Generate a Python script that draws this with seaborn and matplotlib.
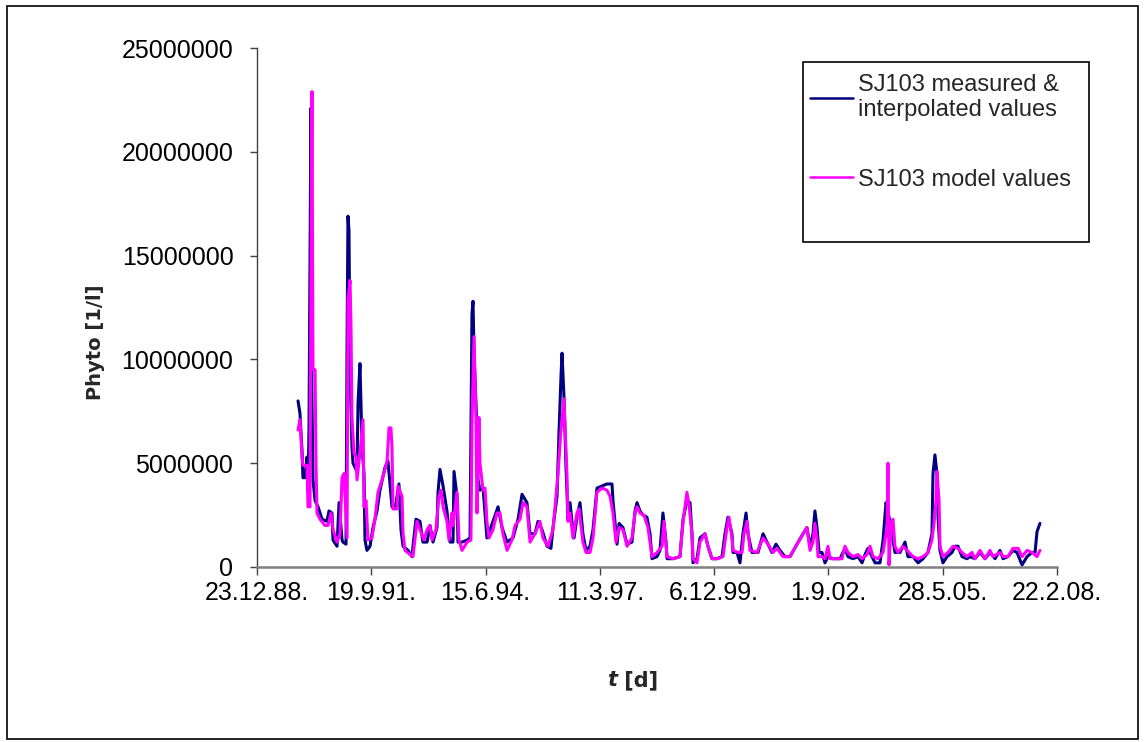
import pandas as pd
import matplotlib
matplotlib.use("Agg")
import matplotlib.pyplot as plt
import matplotlib.dates as mdates
from matplotlib.lines import Line2D
from matplotlib.patches import Rectangle
from matplotlib.ticker import FuncFormatter
import seaborn as sns

# --- data ---
start_date = pd.Timestamp("1988-12-23")
tick_step_days = 1000
n_ticks = 8

# days after 23.12.88 and values in millions of cells per litre
measured_days = [359, 376, 394, 402, 420, 438, 446, 455, 472, 481, 490, 508, 534, 569, 612, 630, 656, 665,
                 700, 718, 744, 752, 779, 788, 796, 805, 814, 831, 840, 875, 884, 901, 919, 936, 945, 962,
                 989, 1015, 1050, 1076, 1120, 1146, 1181, 1208, 1242, 1260, 1278, 1321, 1356, 1365, 1391,
                 1426, 1452, 1488, 1514, 1540, 1575, 1584, 1601, 1628, 1662, 1689, 1715, 1724, 1750, 1759,
                 1794, 1838, 1864, 1881, 1890, 1899, 1925, 1934, 1951, 1978, 2012, 2039, 2065, 2109, 2144,
                 2188, 2240, 2284, 2319, 2362, 2389, 2432, 2459, 2494, 2538, 2572, 2590, 2625, 2642, 2660,
                 2669, 2686, 2704, 2721, 2739, 2756, 2774, 2800, 2826, 2852, 2879, 2914, 2940, 2975, 3019,
                 3062, 3106, 3115, 3132, 3150, 3168, 3202, 3238, 3281, 3308, 3325, 3351, 3378, 3412, 3439,
                 3456, 3500, 3526, 3552, 3579, 3588, 3640, 3701, 3728, 3762, 3789, 3806, 3815, 3850, 3876,
                 3920, 3946, 3981, 4025, 4069, 4095, 4121, 4156, 4165, 4200, 4226, 4252, 4279, 4296, 4331,
                 4384, 4428, 4462, 4506, 4541, 4576, 4620, 4664, 4725, 4778, 4812, 4839, 4865, 4882, 4900,
                 4918, 4944, 4970, 4996, 5040, 5101, 5145, 5171, 5215, 5259, 5294, 5320, 5346, 5381, 5408,
                 5451, 5478, 5504, 5521, 5556, 5582, 5626, 5670, 5696, 5740, 5784, 5828, 5871, 5906, 5915,
                 5932, 5950, 5959, 5976, 6002, 6038, 6081, 6108, 6134, 6169, 6212, 6239, 6282, 6326, 6370,
                 6414, 6458, 6501, 6528, 6571, 6615, 6650, 6694, 6738, 6781, 6808, 6825, 6851]
measured_mio = [8.0, 7.4, 5.6, 4.3, 4.3, 5.3, 3.6, 6.7, 22.1, 8.0, 4.2, 3.2, 2.9, 2.3, 2.2, 2.7, 2.6, 1.3,
                1.0, 3.1, 1.3, 1.2, 1.1, 10.8, 16.9, 16.2, 9.5, 5.8, 5.0, 4.6, 7.9, 9.8, 5.8, 4.5, 1.3, 0.8,
                1.0, 1.9, 2.7, 3.7, 4.8, 5.1, 2.9, 2.8, 4.0, 1.8, 1.0, 0.8, 0.5, 1.0, 2.3,
                2.2, 1.2, 1.2, 2.0, 1.2, 1.9, 3.6, 4.7, 3.9, 2.7, 1.2, 1.2, 4.6, 3.4, 1.2,
                1.2, 1.3, 1.4, 12.2, 12.8, 10.3, 6.6, 4.2, 3.7, 3.8, 1.4, 1.8, 2.2, 2.9, 1.9,
                1.2, 1.4, 2.3, 3.5, 3.1, 1.6, 1.6, 2.2, 1.8, 1.0, 0.9, 1.9, 3.4, 6.4, 9.2,
                10.3, 8.2, 4.8, 2.3, 3.1, 2.2, 1.4, 2.4, 3.1, 1.6, 0.8, 1.0, 1.8, 3.8, 3.9,
                4.0, 4.0, 3.2, 2.2, 1.1, 2.1, 1.9, 1.1, 1.2, 2.7, 3.1, 2.7, 2.5, 2.4, 1.6,
                0.4, 0.5, 0.8, 2.6, 1.2, 0.4, 0.4, 0.5, 2.3, 3.2, 3.1, 1.6, 0.2, 0.4, 1.4,
                1.6, 1.0, 0.4, 0.4, 0.5, 1.6, 2.4, 1.6, 0.7, 0.7, 0.2, 1.6, 2.6, 1.6, 0.7,
                0.7, 1.6, 1.2, 0.7, 1.1, 0.8, 0.5, 0.5, 1.1, 1.6, 1.9, 1.0, 1.6, 2.7, 1.9,
                0.7, 0.7, 0.2, 0.5, 0.4, 0.4, 0.9, 0.5, 0.4, 0.5, 0.2, 0.6, 0.9, 0.5, 0.2,
                0.2, 1.3, 3.1, 2.7, 1.6, 0.7, 0.7, 1.2, 0.5, 0.5, 0.2, 0.4, 0.7, 1.6, 4.5,
                5.4, 4.5, 2.4, 0.8, 0.2, 0.5, 0.7, 1.0, 1.0, 0.5, 0.4, 0.5, 0.4, 0.7, 0.4,
                0.7, 0.4, 0.8, 0.4, 0.5, 0.8, 0.7, 0.1, 0.5, 0.7, 0.7, 1.7, 2.1]

model_days = [359, 376, 394, 402, 438, 446, 464, 472, 481, 490, 508, 516, 525, 551, 595, 621, 648, 665,
              700, 726, 744, 761, 788, 796, 814, 822, 831, 849, 866, 875, 901, 928, 936, 954, 971, 1006,
              1032, 1059, 1094, 1120, 1138, 1155, 1172, 1181, 1190, 1225, 1234, 1269, 1278, 1295, 1339,
              1365, 1400, 1426, 1461, 1488, 1514, 1531, 1566, 1592, 1610, 1628, 1662, 1680, 1706, 1715,
              1750, 1768, 1794, 1838, 1872, 1881, 1899, 1916, 1925, 1942, 1951, 1978, 1995, 2012, 2030,
              2065, 2100, 2126, 2152, 2188, 2231, 2258, 2301, 2328, 2362, 2389, 2432, 2476, 2502, 2546,
              2590, 2634, 2660, 2686, 2712, 2721, 2739, 2765, 2800, 2818, 2852, 2879, 2914, 2940, 2975,
              3019, 3062, 3089, 3115, 3141, 3168, 3202, 3238, 3281, 3308, 3325, 3351, 3386, 3421, 3456,
              3500, 3544, 3561, 3588, 3640, 3701, 3728, 3762, 3780, 3806, 3815, 3850, 3876, 3920, 3946,
              3981, 4025, 4078, 4112, 4130, 4156, 4165, 4209, 4244, 4261, 4288, 4314, 4375, 4428, 4471,
              4515, 4550, 4602, 4664, 4725, 4812, 4839, 4865, 4882, 4900, 4909, 4944, 4970, 4996, 5014,
              5075, 5119, 5145, 5171, 5215, 5259, 5294, 5338, 5364, 5390, 5434, 5478, 5513, 5521, 5530,
              5548, 5565, 5582, 5609, 5652, 5688, 5740, 5784, 5828, 5871, 5906, 5924, 5941, 5950, 5968,
              5976, 6002, 6046, 6090, 6134, 6169, 6212, 6256, 6282, 6326, 6370, 6414, 6440, 6501, 6528,
              6571, 6615, 6659, 6694, 6738, 6781, 6825, 6851]
model_mio = [6.6, 7.1, 5.3, 4.9, 4.9, 2.9, 2.9, 13.5, 22.9, 9.5, 9.5, 5.0, 2.6, 2.3, 2.0, 2.0, 2.6, 1.8,
             1.2, 1.6, 4.3, 4.5, 1.4, 12.9, 13.8, 11.8, 7.2, 5.5, 5.3, 4.2, 5.5, 7.1, 2.9, 3.2, 1.3, 1.4,
             2.3, 3.6, 4.2, 4.7, 5.1, 6.7, 6.7, 5.8, 2.8, 2.8, 3.9, 3.4, 1.6, 0.8, 0.6,
             0.5, 2.2, 1.8, 1.3, 1.8, 2.0, 1.3, 1.8, 3.4, 3.7, 2.9, 2.2, 1.3, 2.6, 2.0,
             3.6, 1.3, 0.8, 1.2, 1.3, 6.9, 11.1, 7.2, 2.6, 7.2, 5.0, 3.7, 3.8, 2.2, 1.4,
             1.8, 2.6, 2.6, 1.6, 0.8, 1.3, 2.0, 2.3, 3.1, 2.9, 1.2, 1.6, 2.2, 1.4, 1.0,
             1.8, 4.5, 6.6, 8.1, 4.5, 2.2, 2.6, 1.4, 2.6, 2.8, 1.2, 0.7, 0.7, 1.4, 3.6,
             3.8, 3.7, 3.4, 2.6, 1.2, 1.9, 1.8, 1.0, 1.4, 2.6, 2.9, 2.6, 2.5, 1.9, 0.5,
             0.7, 1.0, 2.2, 0.5, 0.4, 0.5, 2.2, 3.6, 3.0, 1.6, 0.4, 0.2, 1.2, 1.6, 1.0,
             0.4, 0.4, 0.5, 1.9, 2.4, 1.4, 0.8, 0.7, 0.7, 1.6, 2.2, 0.8, 0.7, 1.4, 1.1,
             0.7, 0.9, 0.5, 0.5, 1.1, 1.9, 0.8, 1.2, 2.1, 1.3, 0.5, 0.5, 0.4, 1.0, 0.4,
             0.4, 0.4, 1.0, 0.7, 0.5, 0.6, 0.4, 0.6, 1.0, 0.5, 0.4, 0.7, 1.9, 5.0, 0.1,
             2.1, 2.3, 1.0, 0.7, 1.0, 0.8, 0.5, 0.4, 0.5, 0.7, 1.3, 2.1, 3.2, 4.6, 3.2,
             1.0, 0.5, 0.7, 1.0, 0.9, 0.7, 0.5, 0.7, 0.4, 0.8, 0.4, 0.8, 0.5, 0.7, 0.5,
             0.5, 0.9, 0.9, 0.5, 0.8, 0.7, 0.5, 0.8]

series_names = ["SJ103 measured &\ninterpolated values", "SJ103 model values"]
series_colors = ["#000080", "#FF00FF"]

df_meas = pd.DataFrame({"date": start_date + pd.to_timedelta(measured_days, unit="D"),
                        "value": [v * 1e6 for v in measured_mio], "series": series_names[0]})
df_model = pd.DataFrame({"date": start_date + pd.to_timedelta(model_days, unit="D"),
                         "value": [v * 1e6 for v in model_mio], "series": series_names[1]})
df = pd.concat([df_meas, df_model], ignore_index=True)

# --- plot ---
sns.set_style("white")
plt.rcParams['font.family'] = ['Liberation Sans', 'DejaVu Sans']

fig = plt.figure(figsize=(11.44, 7.42), dpi=100)
ax = fig.add_axes([257 / 1144, 1 - 567 / 742, 800 / 1144, 519 / 742])

palette = dict(zip(series_names, series_colors))
sns.lineplot(data=df, x="date", y="value", hue="series", palette=palette, estimator=None,
             sort=False, linewidth=2.2, legend=False, ax=ax)

tick_dates = [start_date + pd.Timedelta(days=tick_step_days * i) for i in range(n_ticks)]
ax.set_xlim(tick_dates[0], tick_dates[-1])
ax.set_ylim(0, 25e6)
ax.set_xticks(tick_dates)
ax.set_yticks([0, 5e6, 10e6, 15e6, 20e6, 25e6])


def fmt_date(x, pos):
    d = mdates.num2date(x)
    return f"{d.day}.{d.month}.{d.strftime('%y')}."


ax.xaxis.set_major_formatter(FuncFormatter(fmt_date))
ax.yaxis.set_major_formatter(FuncFormatter(lambda v, p: f"{v:.0f}"))
ax.tick_params(axis="both", labelsize=18, labelcolor="black")

for s in ["top", "right"]:
    ax.spines[s].set_visible(False)
ax.spines["bottom"].set_color("#808080")
ax.spines["bottom"].set_linewidth(1.8)
ax.spines["left"].set_color("#404040")
ax.spines["left"].set_linewidth(1.0)
ax.tick_params(axis="x", direction="out", length=6, width=1, color="#404040", pad=4, bottom=True)
ax.tick_params(axis="y", direction="out", length=5, width=1, color="#404040", pad=12, left=True)

ax.set_xlabel("")
ax.set_ylabel("Phyto [1/l]", fontsize=14, fontweight="bold", family="DejaVu Sans")
ax.yaxis.set_label_coords(-0.19, 0.434)

ax.text(0.45, -0.2177, "t", transform=ax.transAxes, ha="right", va="center",
        fontsize=15, fontweight="bold", fontstyle="italic", family="DejaVu Sans")
ax.text(0.45, -0.2177, " [d]", transform=ax.transAxes, ha="left", va="center",
        fontsize=15, fontweight="bold", family="DejaVu Sans")

# legend with its own box
handles = [Line2D([], [], color=c, linewidth=1.8) for c in series_colors]
fig.legend(handles, series_names, loc="upper left", bbox_to_anchor=(810 / 1144, 1 - 74 / 742),
           frameon=False, prop={"size": 17}, handlelength=1.8,
           handletextpad=0.25, labelspacing=2.0, borderpad=0, borderaxespad=0)
fig.patches.append(Rectangle((803 / 1144, 1 - 242 / 742), 286 / 1144, 180 / 742,
                             transform=fig.transFigure, fill=False, edgecolor="black", linewidth=1.2))
# outer chart border
fig.patches.append(Rectangle((7 / 1144, 1 - 739 / 742), 1131 / 1144, 733 / 742,
                             transform=fig.transFigure, fill=False, edgecolor="black", linewidth=1.2))

fig.savefig("out.png", dpi=100)
